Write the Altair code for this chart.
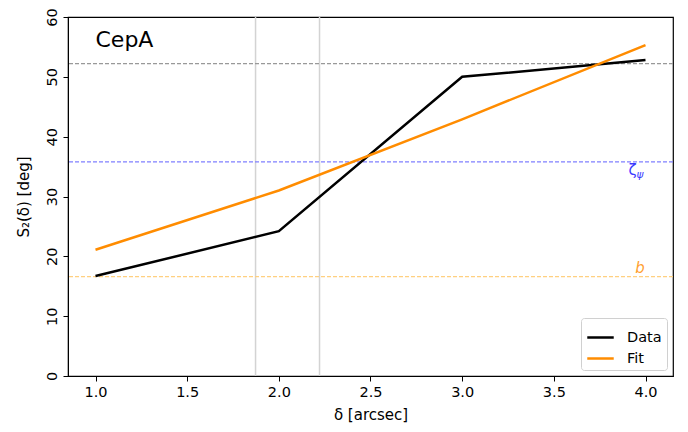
import altair as alt
import pandas as pd

delta = [1.0, 2.0, 3.0, 4.0]
s2_data = [16.7, 24.2, 50.0, 52.8]
s2_fit = [21.1, 31.0, 42.9, 55.3]

hlines_y = [52.2, 35.8, 16.6]
hlines_color = ["#999999", "#8080ff", "#ffd080"]
vlines_x = [1.873, 2.222]

FONT = "DejaVu Sans"

df = pd.DataFrame({
    "delta": delta * 2,
    "S2": s2_data + s2_fit,
    "series": ["Data"] * 4 + ["Fit"] * 4,
})

xs = alt.Scale(domain=[0.85, 4.15], nice=False, zero=False)
ys = alt.Scale(domain=[0, 60], nice=False)

xaxis = alt.Axis(values=[1.0, 1.5, 2.0, 2.5, 3.0, 3.5, 4.0], format=".1f", grid=False,
                 title="δ [arcsec]", domainColor="black", tickColor="black", tickSize=5,
                 labelFontSize=14.5, titleFontSize=15, labelColor="black", titleColor="black",
                 labelFont=FONT, titleFont=FONT, titleFontWeight="normal", labelPadding=4,
                 titlePadding=9)
yaxis = alt.Axis(values=[0, 10, 20, 30, 40, 50, 60], grid=False, title="S₂(δ) [deg]",
                 domainColor="black", tickColor="black", tickSize=5, labelAngle=270,
                 labelAlign="center", labelBaseline="bottom", labelFontSize=14.5,
                 titleFontSize=15, labelColor="black", titleColor="black",
                 labelFont=FONT, titleFont=FONT, titleFontWeight="normal", labelPadding=4,
                 titlePadding=13)

vdf = pd.DataFrame({"x": vlines_x})
vrules = alt.Chart(vdf).mark_rule(color="#d3d3d3", strokeWidth=1.5).encode(
    x=alt.X("x:Q", scale=xs, axis=xaxis))

hrules = []
for yv, cv in zip(hlines_y, hlines_color):
    hd = pd.DataFrame({"y": [yv]})
    hrules.append(alt.Chart(hd).mark_rule(strokeWidth=1.2, strokeDash=[4, 2], color=cv).encode(
        y=alt.Y("y:Q", scale=ys, axis=yaxis)))

lines = alt.Chart(df).mark_line(strokeWidth=2.5).encode(
    x=alt.X("delta:Q", scale=xs, axis=xaxis),
    y=alt.Y("S2:Q", scale=ys, axis=yaxis),
    color=alt.Color("series:N",
                    scale=alt.Scale(domain=["Data", "Fit"], range=["black", "darkorange"]),
                    legend=alt.Legend(title=None, orient="bottom-right", symbolType="stroke",
                                      symbolStrokeWidth=2.5, symbolSize=700, labelFontSize=14.5,
                                      labelFont=FONT, labelColor="black", strokeColor="#d0d0d0",
                                      fillColor="white", padding=5, cornerRadius=3,
                                      offset=6, rowPadding=0, labelOffset=12)),
)

tdf = pd.DataFrame({"x": [1.0], "y": [56.2], "t": ["CepA"]})
title_txt = alt.Chart(tdf).mark_text(align="left", baseline="middle", fontSize=22, font=FONT,
                                     color="black").encode(
    x=alt.X("x:Q", scale=xs), y=alt.Y("y:Q", scale=ys), text="t:N")

zdf = pd.DataFrame({"x": [3.93], "y": [34.5], "t": ["ζ"]})
zeta = alt.Chart(zdf).mark_text(align="center", baseline="middle", fontSize=15, font=FONT,
                                color="#3a3aff").encode(
    x=alt.X("x:Q", scale=xs), y=alt.Y("y:Q", scale=ys), text="t:N")
pdf = pd.DataFrame({"x": [3.97], "y": [33.6], "t": ["ψ"]})
psi = alt.Chart(pdf).mark_text(align="center", baseline="middle", fontSize=10.5, font=FONT,
                               fontStyle="italic", color="#3a3aff").encode(
    x=alt.X("x:Q", scale=xs), y=alt.Y("y:Q", scale=ys), text="t:N")
bdf = pd.DataFrame({"x": [3.97], "y": [18.0], "t": ["b"]})
btxt = alt.Chart(bdf).mark_text(align="center", baseline="middle", fontSize=15, font=FONT,
                                fontStyle="italic", color="#ffa030").encode(
    x=alt.X("x:Q", scale=xs), y=alt.Y("y:Q", scale=ys), text="t:N")

chart = alt.layer(vrules, *hrules, lines, title_txt, zeta, psi, btxt).properties(
    width=605, height=359,
    autosize=alt.AutoSizeParams(type="none"),
    padding={"left": 60, "top": 9, "right": 7, "bottom": 48},
).configure_view(stroke="black", strokeWidth=1.2)

chart.save("out.html", embed_options={"renderer": "svg", "actions": False})
